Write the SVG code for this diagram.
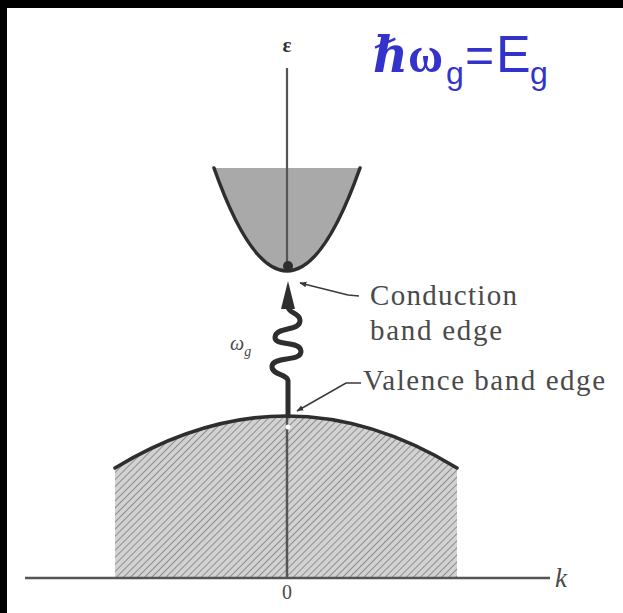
<svg xmlns="http://www.w3.org/2000/svg" width="623" height="613" viewBox="0 0 623 613">
<defs>
<style>
.lbl{font-family:"Liberation Serif","DejaVu Serif",serif;fill:#4a4a4a}
.big{font-size:29px}
.axis{stroke:#555;fill:none}
.band{stroke:#2e2e2e;stroke-width:3.5;fill:none;stroke-linecap:round}
.leader{stroke:#3a3a3a;stroke-width:1.6;fill:none}
.title{fill:#3333cc}
.sans{font-family:"Liberation Sans",Arial,sans-serif}
</style>
<pattern id="hatch" patternUnits="userSpaceOnUse" width="5" height="5" patternTransform="rotate(45)">
<rect width="5" height="5" fill="#d2d2d2"/>
<line x1="0" y1="0" x2="0" y2="5" stroke="#8e8e8e" stroke-width="2"/>
</pattern>
<marker id="arr" viewBox="0 0 10 10" refX="9" refY="5" markerWidth="7" markerHeight="7" orient="auto" markerUnits="userSpaceOnUse">
<path d="M0,1 L10,5 L0,9 Z" fill="#3a3a3a"/>
</marker>
</defs>
<rect x="0" y="0" width="623" height="613" fill="#ffffff"/>
<rect x="0" y="0" width="623" height="8" fill="#000"/>
<rect x="0" y="0" width="7" height="613" fill="#000"/>

<g id="valence-band">
<path d="M115,468 Q287,364 457,468 L457,578 L115,578 Z" fill="url(#hatch)"/>
<path class="band" d="M115,468 Q287,364 457,468"/>
</g>

<g id="conduction-band">
<path d="M214,168 Q287,374 360,168 Z" fill="#a9a9a9"/>
<path class="band" d="M214,168 Q287,374 360,168"/>
</g>

<g id="axes">
<line class="axis" x1="287" y1="68" x2="287" y2="270" stroke-width="2.2" stroke="#6a6a6a"/>
<line class="axis" x1="287" y1="418" x2="287" y2="578" stroke-width="2.5" stroke="#333"/>
<line class="axis" x1="25" y1="578" x2="550" y2="578" stroke-width="2.5" stroke="#444"/>
<text x="287" y="52" class="lbl" style="font-size:21px;font-weight:bold;fill:#333" text-anchor="middle">ε</text>
<text x="287" y="599" class="lbl" style="font-size:20px" text-anchor="middle">0</text>
<text x="555" y="587" class="lbl" style="font-size:27px;font-style:italic">k</text>
</g>

<g id="transition">
<circle cx="288" cy="266" r="5" fill="#2e2e2e"/>
<circle cx="288" cy="427" r="2.5" fill="#fff"/>
<path d="M288,418 L288,381 C288,374 271,375 272,366 C273,356 302,362 301,351 C300,340 274,347 275,337 C276,326 301,332 300,320 C299,312 288,314 288,306" fill="none" stroke="#2e2e2e" stroke-width="5" stroke-linejoin="round"/>
<path d="M288,281 L295,309 L281,309 Z" fill="#2e2e2e"/>
<text x="230" y="350" class="lbl" style="font-size:20px;font-style:italic">ω<tspan style="font-size:14px" dy="6">g</tspan></text>
</g>

<g id="connectors">
<path class="leader" d="M359,296 L348,295 L300,283" marker-end="url(#arr)"/>
<path class="leader" d="M361,383 L346,383 L297,411" marker-end="url(#arr)"/>
</g>

<g id="labels">
<text x="370" y="305" class="lbl big" textLength="147" lengthAdjust="spacing">Conduction</text>
<text x="370" y="340" class="lbl big" textLength="132" lengthAdjust="spacing">band edge</text>
<text x="363" y="390" class="lbl big" textLength="242" lengthAdjust="spacing">Valence band edge</text>
</g>

<g id="title" class="title">
<text x="373" y="72" font-family="'Liberation Serif','DejaVu Serif',serif" font-weight="bold" font-size="50" textLength="70" lengthAdjust="spacingAndGlyphs"><tspan font-style="italic">ℏ</tspan>ω</text>
<text x="446" y="84" class="sans" font-size="32">g</text>
<text x="465" y="72" class="sans" font-size="50">=</text>
<text x="496" y="72" class="sans" font-size="52">E</text>
<text x="530" y="84" class="sans" font-size="32">g</text>
</g>
</svg>
